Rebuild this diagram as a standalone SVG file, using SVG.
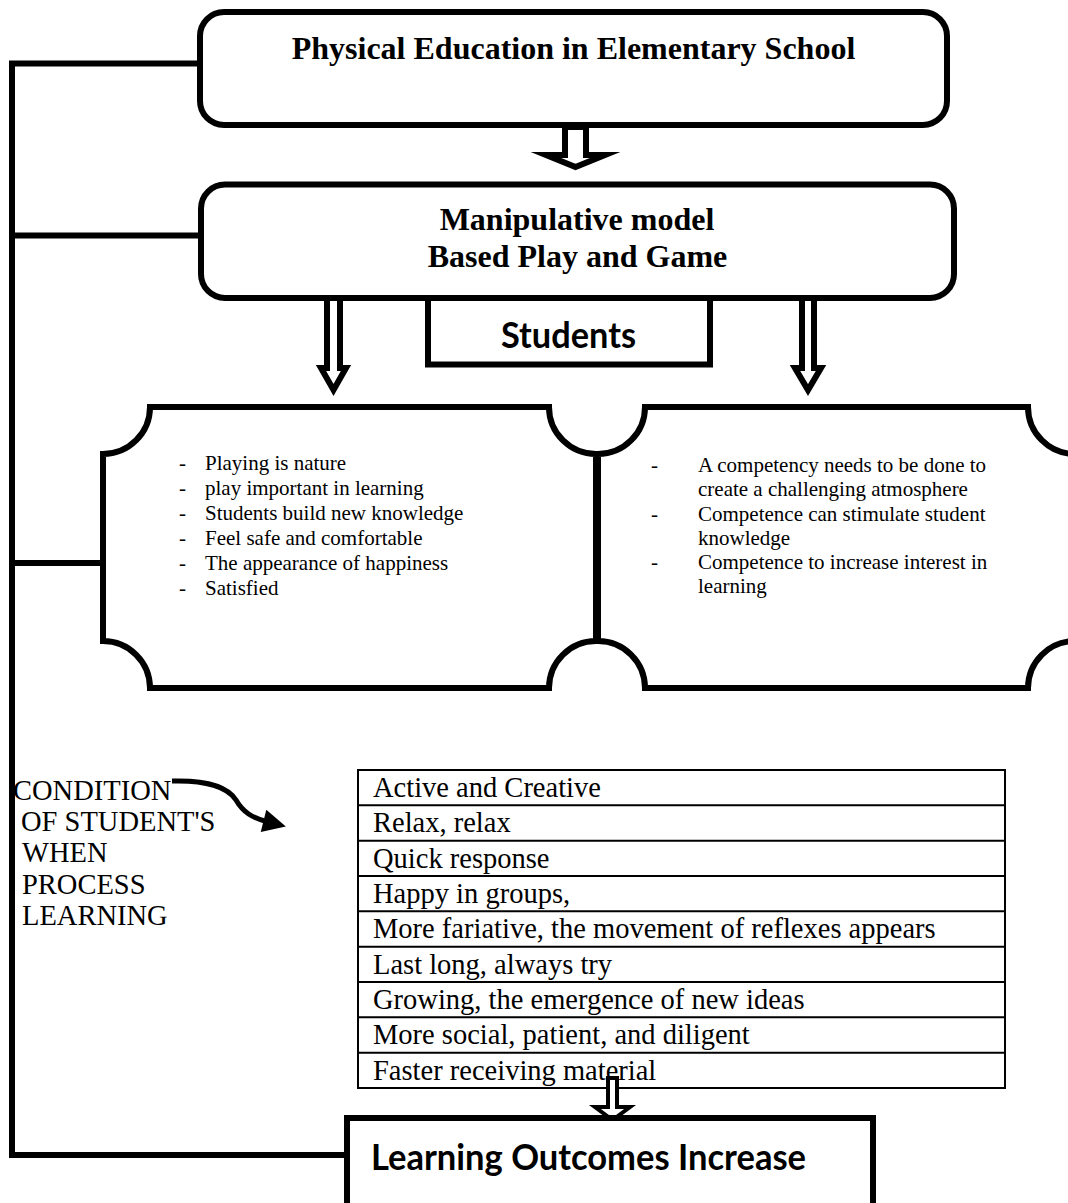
<svg xmlns="http://www.w3.org/2000/svg" width="1068" height="1203" viewBox="0 0 1068 1203">
<style>
.box{fill:#fff;stroke:#000;stroke-width:6}
.scroll{fill:#fff;stroke:#000;stroke-width:6;stroke-linejoin:miter}
.conn{fill:none;stroke:#000;stroke-width:6;stroke-linejoin:miter;stroke-linecap:butt}
.barrow{fill:#fff;stroke:#000;stroke-width:6;stroke-linejoin:miter;stroke-miterlimit:10}
.title{font-family:"Liberation Serif","Times New Roman",serif;font-weight:bold;font-size:32px;fill:#000;text-anchor:middle}
.sans{font-family:Lato,"Open Sans","Liberation Sans",sans-serif;font-weight:bold;font-size:36px;fill:#000}
.body{font-family:"Liberation Serif","Times New Roman",serif;font-size:21px;fill:#000}
.cell{font-family:"Liberation Serif","Times New Roman",serif;font-size:28.5px;fill:#000}
.tbl{fill:none;stroke:#000;stroke-width:2}
</style>
<defs>
<marker id="ah" viewBox="0 0 10 10" refX="2" refY="5" markerWidth="6" markerHeight="4.6" orient="auto" markerUnits="strokeWidth">
<path d="M0,0 L10,5 L0,10 Z" fill="#000"/>
</marker>
</defs>

<g id="connectors">
<path class="conn" d="M198,63.5 H12 V1155 H346"/>
<path class="conn" d="M12,235.5 H200"/>
<path class="conn" d="M12,563 H103"/>
<polygon class="barrow" points="565,127 586,127 586,155 605,155 575.5,167 546,155 565,155"/>
<polygon class="barrow" points="327,298 340,298 340,368 346,368 333.5,390 321,368 327,368"/>
<polygon class="barrow" points="802,298 814,298 814,368 821,368 808,390 795,368 802,368"/>
<path d="M172,781 C206,780 228,787 236,800 C243,812 252,818 268,822" fill="none" stroke="#000" stroke-width="5" marker-end="url(#ah)"/>
</g>

<g id="node-top">
<rect class="box" x="200" y="12" width="747" height="113" rx="24" ry="24"/>
<text class="title" x="573.5" y="59">Physical Education in Elementary School</text>
</g>

<g id="node-model">
<rect class="box" x="201" y="184.5" width="753" height="113.5" rx="24" ry="24"/>
<text class="title" x="577" y="230">Manipulative model</text>
<text class="title" x="577.5" y="267">Based Play and Game</text>
</g>

<g id="node-students">
<rect class="box" x="428" y="298" width="282" height="66.5"/>
<text class="sans" x="501" y="348" textLength="135" lengthAdjust="spacingAndGlyphs">Students</text>
</g>

<g id="node-left">
<path class="scroll" d="M150,407 H549 A47,47 0 0 0 596,454 V641 A47,47 0 0 0 549,688 H150 A47,47 0 0 0 103,641 V454 A47,47 0 0 0 150,407 Z"/>
<g class="body">
<text x="179" y="470">-</text><text x="205" y="470">Playing is nature</text>
<text x="179" y="495">-</text><text x="205" y="495">play important in learning</text>
<text x="179" y="520">-</text><text x="205" y="520">Students build new knowledge</text>
<text x="179" y="545">-</text><text x="205" y="545">Feel safe and comfortable</text>
<text x="179" y="570">-</text><text x="205" y="570">The appearance of happiness</text>
<text x="179" y="595">-</text><text x="205" y="595">Satisfied</text>
</g>
</g>

<g id="node-right">
<path class="scroll" d="M645,407 H1028 A47,47 0 0 0 1075,454 V641 A47,47 0 0 0 1028,688 H645 A47,47 0 0 0 598,641 V454 A47,47 0 0 0 645,407 Z"/>
<g class="body">
<text x="651" y="472">-</text><text x="698" y="472">A competency needs to be done to</text>
<text x="698" y="496">create a challenging atmosphere</text>
<text x="651" y="521">-</text><text x="698" y="521">Competence can stimulate student</text>
<text x="698" y="545">knowledge</text>
<text x="651" y="569">-</text><text x="698" y="569">Competence to increase interest in</text>
<text x="698" y="593">learning</text>
</g>
</g>

<g id="node-condition">
<g class="cell">
<text x="13" y="800">CONDITION</text>
<text x="21" y="831">OF STUDENT'S</text>
<text x="22" y="862">WHEN</text>
<text x="22" y="894">PROCESS</text>
<text x="22" y="925">LEARNING</text>
</g>
</g>

<g id="node-table">
<rect class="tbl" x="358" y="770" width="647" height="318"/>
<path class="tbl" d="M358,805.3 H1005 M358,840.7 H1005 M358,876 H1005 M358,911.3 H1005 M358,946.7 H1005 M358,982 H1005 M358,1017.3 H1005 M358,1052.7 H1005"/>
<g class="cell">
<text x="373" y="797">Active and Creative</text>
<text x="373" y="832.3">Relax, relax</text>
<text x="373" y="867.7">Quick response</text>
<text x="373" y="903">Happy in groups,</text>
<text x="373" y="938.3">More fariative, the movement of reflexes appears</text>
<text x="373" y="973.7">Last long, always try</text>
<text x="373" y="1009">Growing, the emergence of new ideas</text>
<text x="373" y="1044.3">More social, patient, and diligent</text>
<text x="373" y="1079.7">Faster receiving material</text>
</g>
</g>

<g id="connector-bottom">
<polygon class="barrow" style="stroke-width:4" points="608,1078 617,1078 617,1107 630,1107 612.5,1120 595,1107 608,1107"/>
</g>

<g id="node-outcome">
<rect class="box" x="347" y="1118" width="526" height="100"/>
<text class="sans" x="371" y="1170" textLength="435" lengthAdjust="spacingAndGlyphs">Learning Outcomes Increase</text>
</g>
</svg>
